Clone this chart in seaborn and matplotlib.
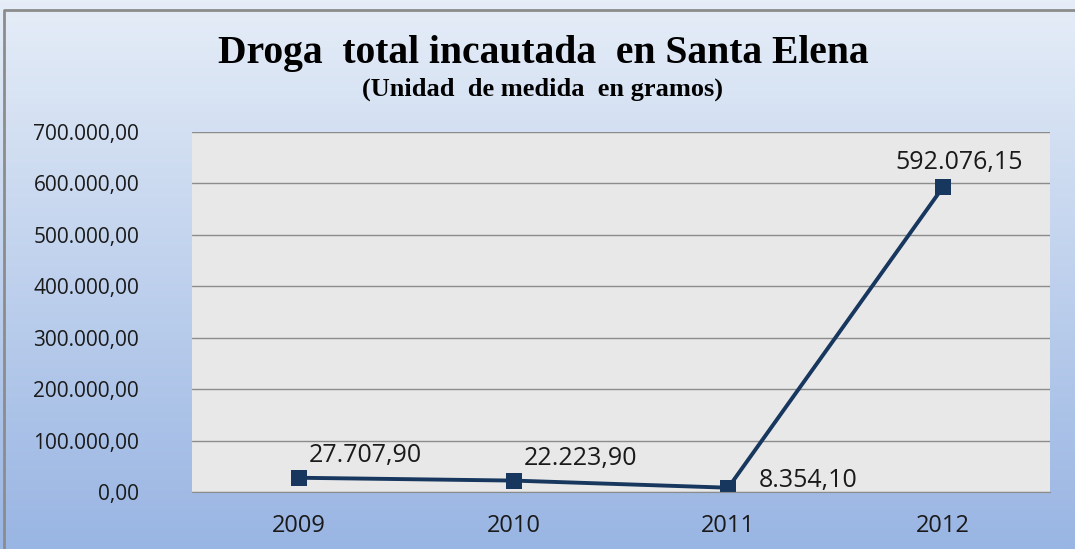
import numpy as np
import pandas as pd
import matplotlib
matplotlib.use("Agg")
import matplotlib.pyplot as plt
import seaborn as sns
from matplotlib.ticker import FuncFormatter

# data
years = ["2009", "2010", "2011", "2012"]
gramos = [27707.90, 22223.90, 8354.10, 592076.15]
label_text = ["27.707,90", "22.223,90", "8.354,10", "592.076,15"]

df = pd.DataFrame({"year": years, "gramos": gramos})

sns.set_style("white")
plt.rcParams["font.family"] = ["Open Sans", "DejaVu Sans"]


def es_fmt(v, pos=None):
    s = f"{v:,.2f}"
    return s.replace(",", "X").replace(".", ",").replace("X", ".")


fig = plt.figure(figsize=(10.75, 5.49), dpi=100)

# gradient background
bg = fig.add_axes([0, 0, 1, 1], zorder=-2)
grad = np.linspace(0, 1, 256).reshape(-1, 1)
top = np.array([0.90, 0.93, 0.97])
bot = np.array([0.60, 0.71, 0.89])
img = top + (bot - top) * grad[:, :, None]
bg.imshow(img, aspect="auto", extent=[0, 1, 0, 1])
bg.plot([0.004, 0.004, 1.0], [0.0, 0.982, 0.982], color="#8c8c8c", lw=2)
bg.set_xlim(0, 1)
bg.set_ylim(0, 1)
bg.axis("off")

ax = fig.add_axes([0.1786, 0.1038, 0.7981, 0.6558])
ax.set_facecolor("#e8e8e8")

sns.lineplot(data=df, x="year", y="gramos", ax=ax, color="#17375e",
             linewidth=2.8, marker="s", markersize=11.5, markeredgewidth=0,
             sort=False)

ax.set_xlim(-0.5, 3.5)
ax.set_ylim(0, 700000)
ax.set_yticks(np.arange(0, 700001, 100000))
ax.yaxis.set_major_formatter(FuncFormatter(es_fmt))
ax.grid(axis="y", color="#8c8c8c", linewidth=1)
ax.set_axisbelow(True)
for sp in ["top", "right", "left"]:
    ax.spines[sp].set_visible(False)
ax.spines["bottom"].set_color("#8c8c8c")
ax.tick_params(axis="y", labelsize=15, colors="#1a1a1a", length=0, pad=38)
ax.tick_params(axis="x", labelsize=17, colors="#1a1a1a", length=0, pad=16)
ax.set_xlabel("")
ax.set_ylabel("")

offsets = [(7, 7), (7, 7), (22, -4), (12, 9)]
has = ["left", "left", "left", "center"]
for i, (v, t) in enumerate(zip(gramos, label_text)):
    ax.annotate(t, (i, v), xytext=offsets[i], textcoords="offset points",
                ha=has[i], va="bottom", fontsize=18, color="#1a1a1a")

fig.text(0.505, 0.902, "Droga  total incautada  en Santa Elena",
         ha="center", va="center", fontsize=28.5, fontweight="bold",
         family="Liberation Serif", color="black")
fig.text(0.505, 0.838, "(Unidad  de medida  en gramos)",
         ha="center", va="center", fontsize=19, fontweight="bold",
         family="Liberation Serif", color="black")

fig.savefig("out.png", dpi=100)
